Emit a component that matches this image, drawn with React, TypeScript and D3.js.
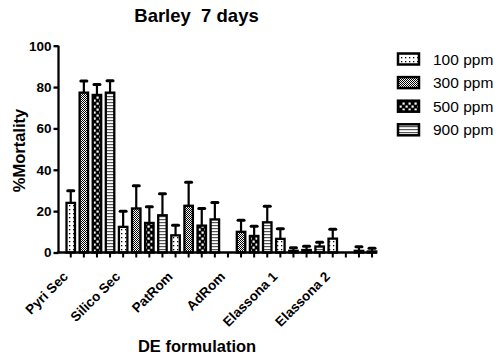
import React, { useEffect, useRef } from 'react';
import * as d3 from 'd3';

const categories = ['Pyri Sec', 'Silico Sec', 'PatRom', 'AdRom', 'Elassona 1', 'Elassona 2'];
const seriesNames = ['100 ppm', '300 ppm', '500 ppm', '900 ppm'];

// mean %mortality per formulation, one array per dose
const ppm100 = [24, 12.4, 8.3, 0, 6.6, 6.7];
const ppm300 = [77.3, 21.3, 22.6, 10, 0.8, 0];
const ppm500 = [76.2, 14.3, 13, 8, 1.2, 0.8];
const ppm900 = [77.3, 18, 16, 14.6, 2.9, 0.5];

// upper error (SD)
const err100 = [5.8, 7.6, 4.9, 0, 4.9, 4.5];
const err300 = [5.6, 11, 11.4, 5.6, 1.5, 0];
const err500 = [5, 7.8, 8.3, 4.7, 1.8, 2];
const err900 = [5.7, 10.4, 8.2, 7.8, 2.1, 1.5];

const yTicks = [0, 20, 40, 60, 80, 100];

const FONT = '"Liberation Sans", Arial, sans-serif';

const App = () => {
  const ref = useRef<SVGSVGElement>(null);

  useEffect(() => {
    const svg = d3.select(ref.current);
    svg.selectAll('*').remove();

    const means = [ppm100, ppm300, ppm500, ppm900];
    const errs = [err100, err300, err500, err900];
    const patternIds = ['p100', 'p300', 'p500', 'p900'];

    // fill patterns, Prism style
    const defs = svg.append('defs');
    const p1 = defs.append('pattern').attr('id', 'p100').attr('patternUnits', 'userSpaceOnUse')
      .attr('width', 4).attr('height', 4);
    p1.append('rect').attr('width', 4).attr('height', 4).attr('fill', '#fff');
    p1.append('rect').attr('x', 1).attr('y', 1).attr('width', 1.3).attr('height', 1.3).attr('fill', '#000');

    const p3 = defs.append('pattern').attr('id', 'p300').attr('patternUnits', 'userSpaceOnUse')
      .attr('width', 2).attr('height', 2);
    p3.append('rect').attr('width', 2).attr('height', 2).attr('fill', '#fff');
    p3.append('rect').attr('width', 1).attr('height', 1).attr('fill', '#000');
    p3.append('rect').attr('x', 1).attr('y', 1).attr('width', 1).attr('height', 1).attr('fill', '#000');

    const p5 = defs.append('pattern').attr('id', 'p500').attr('patternUnits', 'userSpaceOnUse')
      .attr('width', 6).attr('height', 6);
    p5.append('rect').attr('width', 6).attr('height', 6).attr('fill', '#000');
    p5.append('rect').attr('x', 0.5).attr('y', 0.5).attr('width', 2.2).attr('height', 2.2).attr('fill', '#fff');
    p5.append('rect').attr('x', 3.5).attr('y', 3.5).attr('width', 2.2).attr('height', 2.2).attr('fill', '#fff');

    const p9 = defs.append('pattern').attr('id', 'p900').attr('patternUnits', 'userSpaceOnUse')
      .attr('width', 4).attr('height', 3);
    p9.append('rect').attr('width', 4).attr('height', 3).attr('fill', '#fff');
    p9.append('rect').attr('y', 0).attr('width', 4).attr('height', 1.2).attr('fill', '#555');

    const x0 = d3.scaleBand().domain(categories).range([64.2, 378.6]).padding(0);
    const x1 = d3.scaleBand().domain(seriesNames).range([0, x0.bandwidth()])
      .paddingInner(0.2).paddingOuter(0.1);
    const y = d3.scaleLinear().domain([0, 100]).range([252.5, 45.7]);

    // bars + upper error bars
    categories.forEach((cat, ci) => {
      seriesNames.forEach((s, si) => {
        const bx = x0(cat)! + x1(s)!;
        const v = means[si][ci];
        const e = errs[si][ci];
        const cx = bx + x1.bandwidth() / 2;
        if (e > 0) {
          svg.append('line').attr('x1', cx).attr('x2', cx)
            .attr('y1', y(v)).attr('y2', y(v + e))
            .attr('stroke', '#000').attr('stroke-width', 2.2);
          svg.append('line').attr('x1', cx - 3).attr('x2', cx + 3)
            .attr('y1', y(v + e)).attr('y2', y(v + e))
            .attr('stroke', '#000').attr('stroke-width', 3).attr('stroke-linecap', 'round');
        }
        svg.append('rect')
          .attr('x', bx + 1).attr('width', x1.bandwidth() - 2)
          .attr('y', y(v)).attr('height', y(0) - y(v))
          .attr('fill', `url(#${patternIds[si]})`)
          .attr('stroke', '#000').attr('stroke-width', 2.3);
      });
    });

    // y axis
    const yAxis = svg.append('g').attr('transform', 'translate(58.5,0)')
      .call(d3.axisLeft(y).tickValues(yTicks).tickSize(5).tickPadding(2));
    yAxis.select('.domain').attr('stroke-width', 2.3).attr('d', `M0,${y(100)}V${y(0)}`);
    yAxis.selectAll('.tick line').attr('stroke-width', 2.3);
    yAxis.selectAll('.tick text').attr('font-family', FONT).attr('font-size', 13.5)
      .attr('font-weight', 'bold').attr('fill', '#000');

    // x axis, one tick per bar
    const barCenters: number[] = [];
    categories.forEach((cat) => seriesNames.forEach((s) => barCenters.push(x0(cat)! + x1(s)! + x1.bandwidth() / 2)));
    svg.append('line').attr('x1', 57.3).attr('x2', 377).attr('y1', y(0)).attr('y2', y(0))
      .attr('stroke', '#000').attr('stroke-width', 2.3);
    barCenters.forEach((cx) => {
      svg.append('line').attr('x1', cx).attr('x2', cx).attr('y1', y(0)).attr('y2', y(0) + 5)
        .attr('stroke', '#000').attr('stroke-width', 2);
    });
    categories.forEach((cat) => {
      const cx = x0(cat)! + x1(seriesNames[0])! + x1.bandwidth() / 2;
      svg.append('text').attr('transform', `translate(${cx - 2},${y(0) + 25}) rotate(-45)`)
        .attr('text-anchor', 'end').attr('font-family', FONT).attr('font-size', 13.5)
        .attr('font-weight', 'bold').text(cat);
    });

    // titles
    svg.append('text').attr('x', 196.5).attr('y', 22).attr('text-anchor', 'middle')
      .attr('font-family', FONT).attr('font-size', 18.5).attr('font-weight', 'bold')
      .style('white-space', 'pre').text('Barley  7 days');
    svg.append('text').attr('x', 197).attr('y', 352).attr('text-anchor', 'middle')
      .attr('font-family', FONT).attr('font-size', 16.5).attr('font-weight', 'bold').text('DE formulation');
    svg.append('text').attr('transform', 'translate(25,150.5) rotate(-90)').attr('text-anchor', 'middle')
      .attr('font-family', FONT).attr('font-size', 16.5).attr('font-weight', 'bold').text('%Mortality');

    // legend
    seriesNames.forEach((s, i) => {
      const ly = 59 + i * 23.6;
      svg.append('rect').attr('x', 398).attr('y', ly - 5.5).attr('width', 21).attr('height', 11)
        .attr('fill', `url(#${patternIds[i]})`).attr('stroke', '#000').attr('stroke-width', 2.5);
      svg.append('text').attr('x', 433).attr('y', ly).attr('dy', '0.36em')
        .attr('font-family', FONT).attr('font-size', 15.5).text(s);
    });
  }, []);

  return (
    <svg ref={ref} width={501} height={356} style={{ position: 'absolute', left: 0, top: 0, background: '#fff' }} />
  );
};

export default App;
